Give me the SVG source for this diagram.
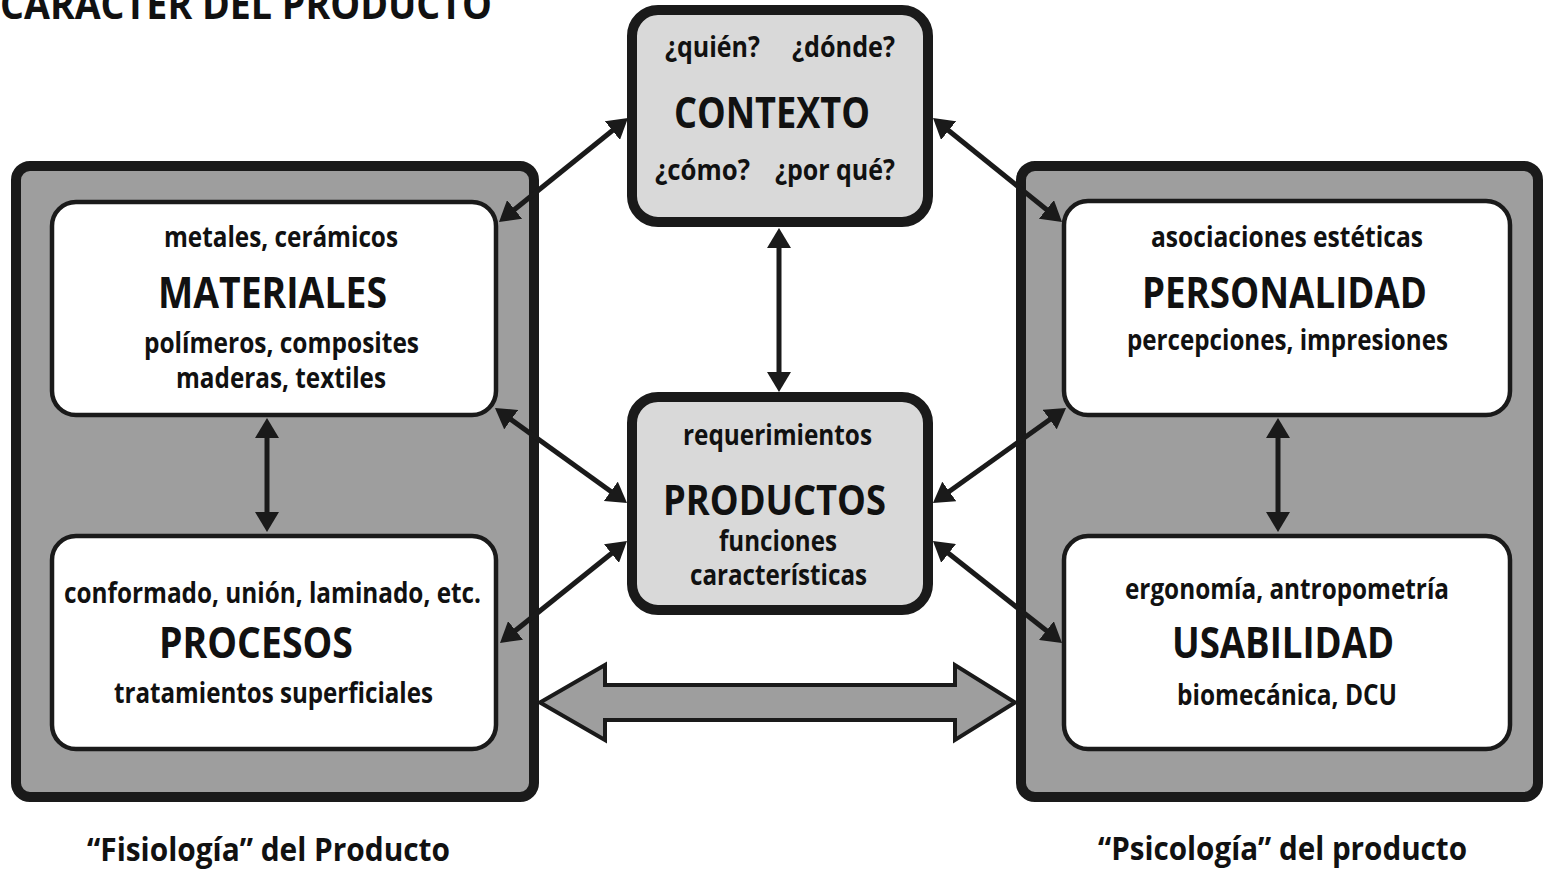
<svg xmlns="http://www.w3.org/2000/svg" width="1544" height="873" viewBox="0 0 1544 873">
<style>
text{font-family:"Open Sans","Liberation Sans",Arial,sans-serif;font-weight:700;fill:#111;text-anchor:middle}
.s{font-size:28px}
.q{font-size:29px}
.b{font-size:43px}
.f{font-size:33px}
.outer{fill:#9e9e9e;stroke:#1a1a1a;stroke-width:10}
.inner{fill:#fff;stroke:#1a1a1a;stroke-width:4.5}
.mid{fill:#d9d9d9;stroke:#1a1a1a;stroke-width:10}
.conn line{stroke:#1a1a1a;stroke-width:5;marker-start:url(#ah);marker-end:url(#ah)}
</style>
<defs>
<marker id="ah" viewBox="0 0 20 24" refX="10" refY="12" markerWidth="20" markerHeight="24" markerUnits="userSpaceOnUse" orient="auto-start-reverse">
<path d="M0,0 L20,12 L0,24 Z" fill="#1a1a1a"/>
</marker>
</defs>
<rect width="1544" height="873" fill="#fff"/>
<text x="0" y="19" style="font-size:42px;text-anchor:start" textLength="492" lengthAdjust="spacingAndGlyphs">CARACTER DEL PRODUCTO</text>

<g id="fisiologia">
<rect class="outer" x="16" y="166" width="518" height="631" rx="14"/>
<text class="f" x="268.5" y="861" textLength="363" lengthAdjust="spacingAndGlyphs">“Fisiología” del Producto</text>
</g>
<g id="psicologia">
<rect class="outer" x="1021" y="166" width="517" height="631" rx="14"/>
<text class="f" x="1282.5" y="860" textLength="369" lengthAdjust="spacingAndGlyphs">“Psicología” del producto</text>
</g>

<g id="materiales">
<rect class="inner" x="52" y="202" width="444" height="213" rx="24"/>
<text class="s" x="281" y="247" textLength="234" lengthAdjust="spacingAndGlyphs">metales, cerámicos</text>
<text class="b" x="272.5" y="308" textLength="229" lengthAdjust="spacingAndGlyphs">MATERIALES</text>
<text class="s" x="281.5" y="353" textLength="275" lengthAdjust="spacingAndGlyphs">polímeros, composites</text>
<text class="s" x="281" y="388" textLength="210" lengthAdjust="spacingAndGlyphs">maderas, textiles</text>
</g>
<g id="procesos">
<rect class="inner" x="52" y="536" width="444" height="213" rx="24"/>
<text class="s" x="272.5" y="603" textLength="417" lengthAdjust="spacingAndGlyphs">conformado, unión, laminado, etc.</text>
<text class="b" x="256" y="658" textLength="194" lengthAdjust="spacingAndGlyphs">PROCESOS</text>
<text class="s" x="273.5" y="703" textLength="319" lengthAdjust="spacingAndGlyphs">tratamientos superficiales</text>
</g>
<g id="personalidad">
<rect class="inner" x="1064" y="201" width="446" height="214" rx="24"/>
<text class="s" x="1287" y="247" textLength="272" lengthAdjust="spacingAndGlyphs">asociaciones estéticas</text>
<text class="b" x="1284.5" y="308" textLength="285" lengthAdjust="spacingAndGlyphs">PERSONALIDAD</text>
<text class="s" x="1287.5" y="350" textLength="321" lengthAdjust="spacingAndGlyphs">percepciones, impresiones</text>
</g>
<g id="usabilidad">
<rect class="inner" x="1064" y="536" width="446" height="213" rx="24"/>
<text class="s" x="1287" y="599" textLength="324" lengthAdjust="spacingAndGlyphs">ergonomía, antropometría</text>
<text class="b" x="1283" y="658" textLength="222" lengthAdjust="spacingAndGlyphs">USABILIDAD</text>
<text class="s" x="1287" y="705" textLength="220" lengthAdjust="spacingAndGlyphs">biomecánica, DCU</text>
</g>

<g id="contexto">
<rect class="mid" x="632" y="10" width="296" height="212" rx="26"/>
<text class="q" x="712.5" y="57" textLength="95" lengthAdjust="spacingAndGlyphs">¿quién?</text>
<text class="q" x="843.5" y="57" textLength="103" lengthAdjust="spacingAndGlyphs">¿dónde?</text>
<text class="b" x="772" y="128" textLength="196" lengthAdjust="spacingAndGlyphs">CONTEXTO</text>
<text class="q" x="702.5" y="180" textLength="95" lengthAdjust="spacingAndGlyphs">¿cómo?</text>
<text class="q" x="835" y="180" textLength="120" lengthAdjust="spacingAndGlyphs">¿por qué?</text>
</g>
<g id="productos">
<rect class="mid" x="632" y="397" width="296" height="213" rx="26"/>
<text class="s" x="777.5" y="445" textLength="189" lengthAdjust="spacingAndGlyphs">requerimientos</text>
<text x="774.5" y="515" style="font-size:42px" textLength="223" lengthAdjust="spacingAndGlyphs">PRODUCTOS</text>
<text class="s" x="778" y="551" textLength="118" lengthAdjust="spacingAndGlyphs">funciones</text>
<text class="s" x="778.5" y="585" textLength="177" lengthAdjust="spacingAndGlyphs">características</text>
</g>

<g id="connectors" class="conn">
<polygon points="540,702.5 605,665 605,685 955,685 955,665 1015,702.5 955,740 955,720 605,720 605,740" fill="#9e9e9e" stroke="#1a1a1a" stroke-width="4" stroke-linejoin="miter"/>
<line x1="620.2" y1="124.3" x2="506.8" y2="215.7"/>
<line x1="940.8" y1="124.3" x2="1054.2" y2="215.7"/>
<line x1="779" y1="238" x2="779" y2="382"/>
<line x1="503.1" y1="413.8" x2="618.9" y2="497.2"/>
<line x1="619.2" y1="547.3" x2="507.8" y2="636.7"/>
<line x1="1057.9" y1="413.8" x2="941.1" y2="497.2"/>
<line x1="940.8" y1="547.2" x2="1054.2" y2="636.8"/>
<line x1="267" y1="428" x2="267" y2="522"/>
<line x1="1278" y1="428" x2="1278" y2="522"/>
</g>
</svg>
